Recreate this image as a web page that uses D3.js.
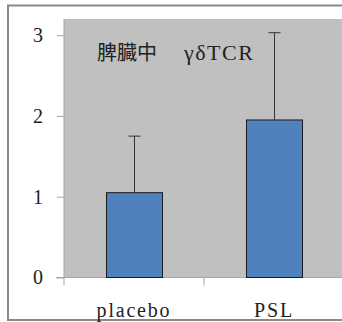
<!DOCTYPE html>
<html>
<head>
<meta charset="utf-8">
<script src="https://cdn.jsdelivr.net/npm/d3@7"></script>
<style>
  html, body { margin: 0; padding: 0; background: #fff; }
  svg { display: block; }
</style>
</head>
<body>
<svg id="chart" width="342" height="322"></svg>
<script>
// Spleen γδTCR expression, mean ± SD
const categories = ["placebo", "PSL"];
const means = [1.05, 1.95];
const errors = [0.70, 1.08];
const yTicks = [0, 1, 2, 3];
const titleJa = "脾臓中";
const titleLatin = "γδTCR";

const serif = "'Liberation Serif', 'DejaVu Serif', serif";
const svg = d3.select("#chart");
const W = 342;
const plot = { left: 64, top: 19, right: 344, bottom: 277.5 };

// outer frame
svg.append("rect")
  .attr("x", 8).attr("y", 5.5)
  .attr("width", W).attr("height", 314.5)
  .attr("fill", "#fff")
  .attr("stroke", "#8a8a8a").attr("stroke-width", 2);

const x = d3.scaleBand()
  .domain(categories)
  .range([plot.left, plot.right])
  .paddingInner(0).paddingOuter(0);

const y = d3.scaleLinear()
  .domain([0, 3.2])
  .range([plot.bottom, plot.top]);

// plot background
svg.append("rect")
  .attr("x", plot.left).attr("y", plot.top)
  .attr("width", plot.right - plot.left)
  .attr("height", plot.bottom - plot.top)
  .attr("fill", "#c0c0c0");

// y axis
const yAxis = svg.append("g")
  .attr("transform", `translate(${plot.left},0)`)
  .call(d3.axisLeft(y).tickValues(yTicks).tickFormat(d3.format("d")).tickSize(7).tickPadding(14));
yAxis.select(".domain").attr("stroke", "#a6a6a6").attr("d", `M0,${plot.top}V${plot.bottom + 8}`);
yAxis.selectAll(".tick line").attr("stroke", "#a6a6a6");
yAxis.selectAll(".tick text")
  .style("font-family", serif)
  .style("font-size", "20px")
  .attr("fill", "#222");

// x axis
const xAxis = svg.append("g")
  .attr("transform", `translate(0,${plot.bottom})`)
  .call(d3.axisBottom(x).tickSize(0).tickPadding(25));
xAxis.select(".domain").attr("stroke", "#a6a6a6").attr("d", `M${plot.left - 8},0H${plot.right}`);
xAxis.selectAll(".tick text")
  .style("font-family", serif)
  .style("font-size", "20px")
  .style("letter-spacing", "1.8px")
  .attr("fill", "#222");
// category boundary ticks
xAxis.selectAll(".sep")
  .data(categories.slice(1))
  .join("line")
  .attr("class", "sep")
  .attr("x1", d => x(d)).attr("x2", d => x(d))
  .attr("y1", 0).attr("y2", 8)
  .attr("stroke", "#a6a6a6");

// bars
const barW = 56;
svg.append("g").selectAll("rect")
  .data(categories)
  .join("rect")
  .attr("x", d => x(d) + x.bandwidth() / 2 - barW / 2 + 0.5)
  .attr("y", (d, i) => y(means[i]))
  .attr("width", barW)
  .attr("height", (d, i) => y(0) - y(means[i]))
  .attr("fill", "#4f81bd")
  .attr("stroke", "#1a1a1a").attr("stroke-width", 1);

// error bars (upper only)
const capW = 12;
const eb = svg.append("g").attr("stroke", "#333").attr("stroke-width", 1);
categories.forEach((c, i) => {
  const cx = Math.round(x(c) + x.bandwidth() / 2) + 0.5;
  eb.append("line")
    .attr("x1", cx).attr("x2", cx)
    .attr("y1", y(means[i])).attr("y2", y(means[i] + errors[i]));
  eb.append("line")
    .attr("x1", cx - capW / 2).attr("x2", cx + capW / 2)
    .attr("y1", y(means[i] + errors[i])).attr("y2", y(means[i] + errors[i]));
});

// title inside plot
const title = svg.append("text")
  .attr("x", 97).attr("y", 60)
  .attr("fill", "#222");
title.append("tspan")
  .style("font-family", "'Noto Sans CJK JP', sans-serif")
  .style("font-size", "20px")
  .text(titleJa);
title.append("tspan")
  .attr("x", 184)
  .style("font-family", serif)
  .style("font-size", "22px")
  .style("letter-spacing", "1.5px")
  .text(titleLatin);
</script>
</body>
</html>
